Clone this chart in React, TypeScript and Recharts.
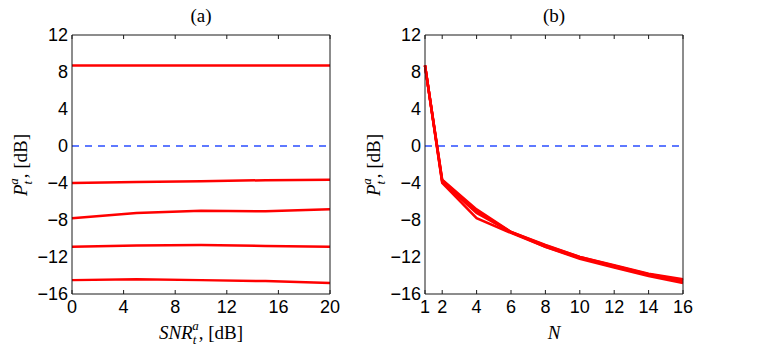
import { LineChart, Line, XAxis, YAxis, ReferenceLine } from "recharts";

// panel (a): transmit power vs SNR, one curve per N
const SNR_DB = [0, 5, 10, 15, 20];
const PA_N1 = [8.7, 8.7, 8.7, 8.7, 8.7];
const PA_N2 = [-4.0, -3.9, -3.8, -3.7, -3.65];
const PA_N4 = [-7.8, -7.25, -7.0, -7.05, -6.85];
const PA_N8 = [-10.9, -10.75, -10.7, -10.8, -10.9];
const PA_N16 = [-14.5, -14.4, -14.5, -14.6, -14.8];

// panel (b): transmit power vs N, one curve per SNR
const N_VALUES = [1, 2, 4, 6, 8, 10, 12, 14, 16];
const PB_SNR0 = [8.7, -4.0, -7.8, -9.4, -10.9, -12.1, -13.0, -13.9, -14.5];
const PB_SNR5 = [8.7, -3.9, -7.25, -9.3, -10.75, -12.0, -12.9, -13.8, -14.4];
const PB_SNR10 = [8.7, -3.8, -7.0, -9.3, -10.7, -12.0, -12.95, -13.85, -14.5];
const PB_SNR15 = [8.7, -3.7, -7.05, -9.35, -10.8, -12.1, -13.05, -13.95, -14.6];
const PB_SNR20 = [8.7, -3.65, -6.85, -9.3, -10.9, -12.2, -13.15, -14.05, -14.8];

const Y_TICKS = [-16, -12, -8, -4, 0, 4, 8, 12];
const XA_TICKS = [0, 4, 8, 12, 16, 20];
const XB_TICKS = [1, 2, 4, 6, 8, 10, 12, 14, 16];

const SERIES_A = [PA_N1, PA_N2, PA_N4, PA_N8, PA_N16];
const SERIES_B = [PB_SNR0, PB_SNR5, PB_SNR10, PB_SNR15, PB_SNR20];

const dataA = SNR_DB.map((x, i) => {
  const row: Record<string, number> = { x };
  SERIES_A.forEach((s, k) => (row[`s${k}`] = s[i]));
  return row;
});

const dataB = N_VALUES.map((x, i) => {
  const row: Record<string, number> = { x };
  SERIES_B.forEach((s, k) => (row[`s${k}`] = s[i]));
  return row;
});

const AXIS = "#1a1a1a";
const TICK_FONT = { fill: "#000", fontSize: 18, fontFamily: "Liberation Sans" };
const SERIF = "Liberation Serif";
const minus = (v: number) => String(v).replace("-", "\u2212");
const blank = () => "";

const Y_DOMAIN: [number, number] = [-16, 12];
// both panels share one geometry: 404 wide, plot 258 wide starting 70px in
const PANEL_W = 404;
const PANEL_MARGIN = { top: 35, right: 76, bottom: 19, left: 0 };

type PanelProps = {
  data: Record<string, number>[];
  domain: [number, number];
  xTicks: number[];
};

function Panel({ data, domain, xTicks }: PanelProps) {
  return (
    <LineChart width={PANEL_W} height={353} data={data} margin={PANEL_MARGIN}>
      <XAxis
        xAxisId="main"
        dataKey="x"
        type="number"
        domain={domain}
        ticks={xTicks}
        tick={TICK_FONT}
        tickFormatter={minus}
        tickLine={false}
        tickSize={0}
        tickMargin={6}
        stroke={AXIS}
        height={40}
      />
      <XAxis xAxisId="bot" dataKey="x" type="number" domain={domain} ticks={xTicks} orientation="bottom" mirror height={1} tickFormatter={blank} tickSize={4} stroke={AXIS} axisLine={false} />
      <XAxis xAxisId="top" dataKey="x" type="number" domain={domain} ticks={xTicks} orientation="top" mirror height={1} tickFormatter={blank} tickSize={4} stroke={AXIS} />
      <YAxis
        yAxisId="main"
        type="number"
        domain={Y_DOMAIN}
        ticks={Y_TICKS}
        tick={TICK_FONT}
        tickFormatter={minus}
        tickLine={false}
        tickSize={0}
        tickMargin={4}
        stroke={AXIS}
        width={70}
      />
      <YAxis yAxisId="left" type="number" domain={Y_DOMAIN} ticks={Y_TICKS} orientation="left" mirror width={1} tickFormatter={blank} tickSize={4} stroke={AXIS} axisLine={false} />
      <YAxis yAxisId="right" type="number" domain={Y_DOMAIN} ticks={Y_TICKS} orientation="right" mirror width={1} tickFormatter={blank} tickSize={4} stroke={AXIS} />
      <ReferenceLine xAxisId="main" yAxisId="main" y={0} stroke="#2a4dff" strokeDasharray="7 6" strokeWidth={1.3} />
      {[0, 1, 2, 3, 4].map((k) => (
        <Line
          key={k}
          xAxisId="main"
          yAxisId="main"
          dataKey={`s${k}`}
          stroke="#ff0000"
          strokeWidth={2.5}
          dot={false}
          isAnimationActive={false}
        />
      ))}
    </LineChart>
  );
}

function YLabel({ x, y }: { x: number; y: number }) {
  return (
    <text transform={`translate(${x},${y}) rotate(-90)`} textAnchor="middle" fontFamily={SERIF} fontSize={19} fill="#000">
      <tspan fontStyle="italic">P</tspan>
      <tspan fontStyle="italic" fontSize={13} dy={5}>t</tspan>
      <tspan fontStyle="italic" fontSize={13} dx={-4} dy={-14}>a</tspan>
      <tspan dy={9}>,  [dB]</tspan>
    </text>
  );
}

export default function App() {
  return (
    <div style={{ position: "relative", width: 759, height: 353, margin: -8, background: "#fff", overflow: "hidden" }}>
      <div style={{ position: "absolute", left: 2, top: 0 }}>
        <Panel data={dataA} domain={[0, 20]} xTicks={XA_TICKS} />
      </div>
      <div style={{ position: "absolute", left: 355, top: 0 }}>
        <Panel data={dataB} domain={[1, 16]} xTicks={XB_TICKS} />
      </div>
      <svg width={759} height={353} style={{ position: "absolute", left: 0, top: 0, pointerEvents: "none" }}>
        <text x={201} y={22} textAnchor="middle" fontFamily={SERIF} fontSize={19} fill="#000">(a)</text>
        <text x={554} y={22} textAnchor="middle" fontFamily={SERIF} fontSize={19} fill="#000">(b)</text>
        <YLabel x={27} y={165} />
        <YLabel x={380} y={165} />
        <text x={201} y={339} textAnchor="middle" fontFamily={SERIF} fontSize={19} fill="#000">
          <tspan fontStyle="italic">SNR</tspan>
          <tspan fontStyle="italic" fontSize={13} dy={5}>t</tspan>
          <tspan fontStyle="italic" fontSize={13} dx={-4} dy={-14}>a</tspan>
          <tspan dy={9}>, [dB]</tspan>
        </text>
        <text x={554} y={339} textAnchor="middle" fontFamily={SERIF} fontSize={19} fontStyle="italic" fill="#000">N</text>
      </svg>
    </div>
  );
}
